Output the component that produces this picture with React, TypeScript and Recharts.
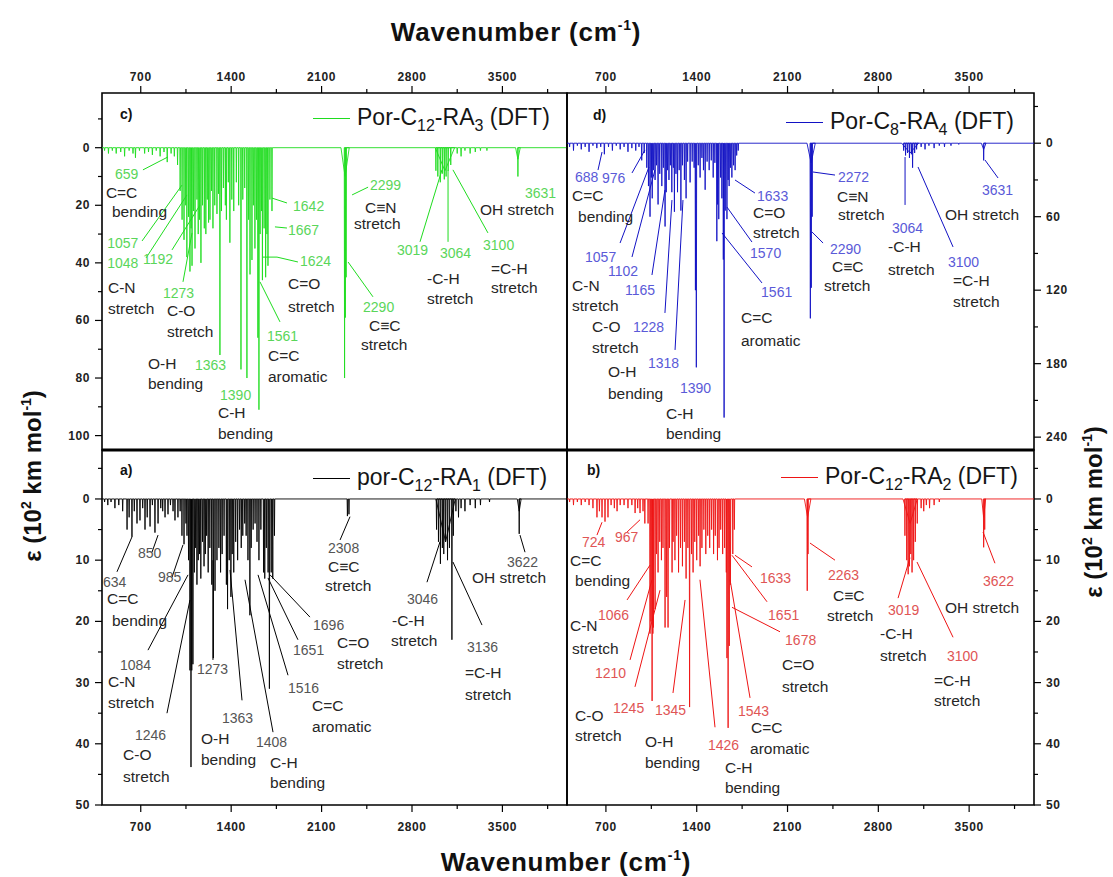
import {
  LineChart, Line, XAxis, YAxis, ReferenceArea, ReferenceLine, ReferenceDot, Legend,
} from 'recharts'

type Peak = [number, number, number?]
type Note = [string, number, number]
type Leader = [number, number, number, number]

const FONT = '"Liberation Sans", Arial, Helvetica, sans-serif'
const W = 1113
const H = 877

// wavenumber ticks shared by all four panels
const waveMajor = [700, 1400, 2100, 2800, 3500]
const waveTicks = [700, 1050, 1400, 1750, 2100, 2450, 2800, 3150, 3500, 3850]

const upperLeftTicks = [-10, 0, 10, 20, 30, 40, 50, 60, 70, 80, 90, 100]
const upperLeftMajor = [0, 20, 40, 60, 80, 100]
const upperRightTicks = [-30, 0, 30, 60, 90, 120, 150, 180, 210, 240]
const upperRightMajor = [0, 60, 120, 180, 240]
const lowerTicks = [-5, 0, 5, 10, 15, 20, 25, 30, 35, 40, 45, 50]
const lowerMajor = [0, 10, 20, 30, 40, 50]

// peak lists: [wavenumber, epsilon, half width (optional)]
const ra3Peaks: Peak[] = [
  [420, 1], [450, 2], [480, 1], [510, 2], [545, 1.5], [575, 3], [610, 1], [640, 2], [659, 3.5], [690, 1],
  [730, 2], [760, 1.5], [790, 2.5], [820, 1], [850, 3], [880, 1.5], [905, 5], [935, 2], [960, 3], [985, 6],
  [1005, 15], [1020, 25], [1035, 32], [1048, 20], [1057, 38], [1070, 24], [1081, 43], [1090, 28], [1097, 41],
  [1108, 22], [1120, 35], [1135, 18], [1145, 30], [1155, 25], [1166, 40], [1178, 20], [1192, 28], [1204, 30],
  [1215, 18], [1225, 26], [1236, 25], [1248, 15], [1259, 28], [1273, 20], [1290, 23], [1302, 16], [1313, 72],
  [1325, 22], [1340, 14], [1355, 20], [1363, 25], [1378, 12], [1390, 33], [1405, 18], [1420, 22], [1440, 12],
  [1458, 20], [1476, 77], [1490, 18], [1505, 14], [1522, 80], [1535, 25], [1546, 44], [1561, 39], [1572, 20],
  [1584, 35], [1596, 25], [1607, 66], [1615, 91], [1624, 30], [1635, 22], [1642, 46], [1655, 28], [1667, 45],
  [1677, 30], [1685, 41], [1700, 18], [1716, 22],
  [2282, 10, 32], [2278, 80], [2284, 59], [2290, 45],
  [3055, 8, 75], [2985, 8], [3000, 10], [3019, 12], [3035, 9], [3050, 11], [3064, 10], [3080, 8], [3100, 6],
  [3150, 2], [3180, 3], [3210, 1], [3250, 2], [3290, 1.5], [3330, 1], [3380, 1],
  [3620, 4, 18], [3620, 10],
]

const ra4Peaks: Peak[] = [
  [420, 3], [450, 6], [480, 2], [510, 5], [540, 3], [570, 7], [600, 2], [630, 4], [660, 3], [688, 9],
  [720, 3], [750, 6], [780, 2], [810, 5], [840, 3], [870, 7], [900, 4], [930, 6], [955, 3], [976, 14], [995, 8],
  [1015, 20], [1028, 35], [1040, 60], [1050, 28], [1057, 45], [1068, 22], [1079, 30], [1090, 18], [1102, 50],
  [1115, 25], [1131, 35], [1143, 20], [1156, 68], [1165, 40], [1175, 22], [1186, 30], [1197, 18], [1208, 40],
  [1220, 20], [1228, 56], [1240, 25], [1252, 40], [1265, 22], [1278, 55], [1290, 18], [1305, 30], [1318, 45],
  [1330, 15], [1349, 32], [1365, 15], [1380, 20], [1390, 120], [1397, 183], [1412, 18], [1426, 28], [1440, 12],
  [1452, 22], [1465, 38], [1480, 15], [1496, 22], [1512, 14], [1527, 28], [1540, 16], [1555, 80], [1561, 50],
  [1570, 62], [1584, 28], [1594, 45], [1605, 95], [1611, 224], [1620, 55], [1633, 62], [1642, 30], [1650, 35],
  [1660, 20], [1671, 28], [1684, 18], [1696, 22], [1708, 10], [1720, 6],
  [2282, 16, 32], [2276, 143], [2283, 118], [2290, 60],
  [3045, 8, 65], [2995, 6], [3010, 10], [3025, 8], [3040, 12], [3055, 9], [3064, 20], [3080, 8], [3095, 5],
  [3130, 3], [3160, 5], [3190, 2], [3230, 4], [3270, 2], [3310, 3], [3360, 2], [3420, 1],
  [3612, 5, 18], [3612, 14],
]

const ra1Peaks: Peak[] = [
  [420, 0.5], [445, 1], [470, 0.5], [500, 1.5], [530, 1], [560, 2], [594, 5], [610, 3], [632, 6.2], [650, 2],
  [671, 4], [694, 3.5], [715, 1.5], [733, 5], [750, 3], [772, 4.5], [790, 1], [810, 5.5], [834, 4], [855, 1.5],
  [870, 2], [888, 3], [911, 2.5], [930, 1], [950, 2], [965, 3.5], [988, 3], [1005, 2], [1019, 6], [1035, 7.4],
  [1050, 4], [1058, 6],
  [1070, 10], [1081, 28], [1089, 43.8], [1095, 28], [1104, 27], [1115, 12], [1125, 8], [1135, 14], [1145, 10],
  [1155, 9], [1165, 13], [1178, 7], [1190, 11], [1200, 9], [1210, 6], [1222, 12], [1235, 8], [1250, 14],
  [1262, 26], [1275, 15], [1290, 10], [1305, 8], [1318, 12], [1330, 9], [1345, 6], [1363, 14], [1372, 18],
  [1385, 10], [1398, 16], [1408, 9], [1420, 12], [1435, 7], [1450, 10], [1465, 5], [1478, 8], [1490, 6],
  [1505, 4], [1516, 6], [1530, 10], [1545, 19], [1555, 8], [1570, 5], [1585, 4], [1600, 7], [1615, 10],
  [1630, 5], [1651, 12], [1660, 13], [1672, 8], [1686, 12], [1696, 31], [1710, 12], [1722, 13], [1735, 6],
  [2300, 2.8], [2312, 2.5],
  [3060, 7, 75], [2990, 5], [3005, 7], [3020, 10.6], [3035, 8], [3046, 9], [3060, 7], [3075, 10], [3090, 8],
  [3109, 23], [3120, 6],
  [3140, 2], [3160, 3], [3180, 1.5], [3210, 2], [3250, 1], [3290, 1.5], [3330, 1], [3400, 0.5],
  [3630, 2, 15], [3630, 5.7],
]

const ra2Peaks: Peak[] = [
  [420, 0.5], [450, 1], [480, 0.5], [510, 1], [540, 0.5], [570, 1], [600, 1.5], [631, 3], [650, 2], [670, 3],
  [693, 3.7], [716, 3], [740, 1], [765, 1.5], [786, 2], [810, 1], [840, 1], [870, 1.5], [900, 1], [925, 2.3],
  [945, 1.5], [963, 2.3], [986, 2], [1000, 4], [1025, 4],
  [1040, 22], [1048, 20], [1056, 33], [1062, 22], [1066, 21], [1079, 18], [1090, 9], [1102, 12], [1115, 7],
  [1128, 10], [1140, 8], [1156, 21], [1168, 16], [1179, 21], [1190, 8], [1210, 12], [1218, 7], [1232, 10],
  [1245, 6], [1260, 12], [1275, 8], [1290, 11], [1305, 7], [1318, 13], [1332, 8], [1345, 34], [1360, 9],
  [1372, 12], [1385, 7], [1400, 10], [1415, 6], [1426, 11], [1440, 8], [1455, 5], [1470, 9], [1485, 6],
  [1500, 8], [1515, 5], [1530, 9], [1543, 6], [1560, 10], [1572, 8], [1585, 5], [1600, 9], [1615, 8],
  [1628, 12], [1633, 26], [1642, 37.4], [1651, 24], [1660, 14], [1678, 9], [1690, 5],
  [2255, 3, 25], [2252, 15], [2258, 9],
  [3045, 4, 55], [3005, 6], [3019, 10], [3030, 12.3], [3040, 11], [3050, 9], [3060, 12], [3072, 10],
  [3085, 7], [3100, 4],
  [3130, 1.5], [3150, 2], [3170, 1], [3195, 1.5], [3230, 1], [3270, 0.5],
  [3612, 3, 15], [3612, 7.9], [3620, 5],
]

// band assignments: [text, wavenumber, epsilon]
const ra3Numbers: Note[] = [
  ['659', 500, 9], ['1057', 440, 33], ['1048', 440, 40], ['1192', 717, 38.6], ['1273', 872, 50.5],
  ['1363', 1120, 75.6], ['1390', 1314, 85.9], ['1561', 1677, 65.4], ['1642', 1879, 20.2], ['1667', 1840, 28.6],
  ['1624', 1933, 39.3], ['2299', 2475, 13], ['2290', 2421, 55.3], ['3019', 2684, 35.5], ['3064', 3017, 36.6],
  ['3100', 3350, 33.8], ['3631', 3675, 15.7],
]
const ra3Notes: Note[] = [
  ['C=C', 430, 15.4], ['bending', 477, 22.3], ['C-N', 446, 48.7], ['stretch', 446, 55.7],
  ['C-O', 903, 56.7], ['stretch', 903, 64], ['O-H', 756, 74.8], ['bending', 756, 82],
  ['C-H', 1298, 92.1], ['bending', 1298, 99.4], ['C=C', 1685, 72.3], ['aromatic', 1685, 79.6],
  ['C=O', 1840, 47.3], ['stretch', 1840, 55], ['C≡N', 2436, 20.6], ['stretch', 2351, 26.5],
  ['C≡C', 2467, 61.9], ['stretch', 2405, 68.5], ['-C-H', 2916, 45.6], ['stretch', 2916, 52.5],
  ['=C-H', 3412, 41.8], ['stretch', 3412, 48.7], ['OH stretch', 3327, 21.6],
]
const ra3Leaders: Leader[] = [
  [717, 7.7, 911, 3.2], [710, 32.4, 1019, 13], [741, 38.3, 1058, 16.4], [942, 35.5, 1159, 19.9],
  [1027, 46.6, 1097, 29.6], [1832, 19.2, 1716, 17.5], [1832, 27.9, 1739, 27.5], [1917, 39.7, 1755, 38],
  [1755, 38, 1646, 38], [1778, 60.5, 1623, 46.6], [2460, 13.7, 2336, 16.4], [2498, 51.8, 2305, 39.7],
  [2862, 32.7, 3032, 7.7], [3079, 32.7, 3079, 7.7], [3388, 29.6, 3117, 7.7],
]

const ra4Numbers: Note[] = [
  ['688', 462, 27.6], ['976', 670, 28.4], ['1633', 1865, 43.1], ['2272', 2489, 27.6], ['3064', 2905, 69.2],
  ['3631', 3599, 38.2], ['1057', 539, 92.9], ['1102', 716, 104.3], ['1165', 847, 119.9], ['1228', 909, 150],
  ['1318', 1024, 179.5], ['1390', 1271, 199.9], ['1570', 1811, 89.6], ['1561', 1896, 121.5],
  ['2290', 2427, 86.4], ['3100', 3337, 97],
]
const ra4Notes: Note[] = [
  ['C=C', 439, 42.3], ['bending', 485, 60.2], ['C=O', 1834, 56.2], ['stretch', 1834, 72.5],
  ['C≡N', 2481, 43.9], ['stretch', 2489, 58.6], ['OH stretch', 3314, 58.6],
  ['C-N', 439, 115.8], ['stretch', 439, 132.9], ['C-O', 593, 150], ['stretch', 593, 167.2],
  ['O-H', 716, 186.8], ['bending', 716, 204], ['C-H', 1163, 220.3], ['bending', 1163, 237.4],
  ['C=C', 1741, 142.7], ['aromatic', 1741, 160.7], ['C≡C', 2443, 100.3], ['stretch', 2381, 115.8],
  ['-C-H', 2875, 84.7], ['stretch', 2875, 103.5], ['=C-H', 3376, 112.5], ['stretch', 3376, 129.6],
]
const ra4Leaders: Leader[] = [
  [639, 21.9, 670, 7.2], [901, 24.3, 1001, 5.5], [809, 81.5, 1032, 19.4], [901, 92.9, 1078, 21.9],
  [1055, 107.6, 1155, 38.2], [1155, 138.6, 1209, 46.4], [1233, 168.8, 1294, 46.4], [1849, 40.7, 1695, 30],
  [1826, 80.7, 1633, 52.1], [1903, 114.1, 1595, 73.3], [2466, 26, 2296, 23.5], [2374, 81.5, 2289, 72.5],
  [3006, 50.4, 3006, 11.3], [3376, 84.7, 3106, 19.4], [3723, 28.4, 3622, 13.7],
]

const ra1Numbers: Note[] = [
  ['850', 679, 8.8], ['985', 834, 12.8], ['634', 408, 13.6], ['2308', 2150, 8], ['3622', 3535, 10.3],
  ['3046', 2761, 16.3], ['1696', 2034, 20.6], ['1651', 1879, 24.7], ['3136', 3226, 24.2], ['1084', 539, 27.1],
  ['1273', 1135, 27.8], ['1516', 1840, 30.9], ['1363', 1329, 35.8], ['1246', 655, 38.6], ['1408', 1592, 39.7],
]
const ra1Notes: Note[] = [
  ['C=C', 439, 16.2], ['bending', 477, 19.8], ['C≡C', 2150, 11.1], ['stretch', 2126, 14.1],
  ['OH stretch', 3265, 12.9], ['-C-H', 2645, 19.8], ['stretch', 2637, 23.2], ['C=O', 2219, 23.4],
  ['stretch', 2219, 26.8], ['=C-H', 3210, 28.3], ['stretch', 3210, 32], ['C-N', 446, 29.9],
  ['stretch', 446, 33.3], ['C=C', 2026, 33.7], ['aromatic', 2026, 37.1], ['C-O', 563, 41.8],
  ['stretch', 563, 45.3], ['O-H', 1166, 39.1], ['bending', 1166, 42.5], ['C-H', 1701, 43.1],
  ['bending', 1701, 46.4],
]
const ra1Leaders: Leader[] = [
  [516, 11.9, 632, 6.2], [787, 8.7, 834, 5.9], [942, 12.8, 1027, 7.5], [756, 24.7, 1066, 12.4],
  [903, 35, 1081, 16.5], [1259, 26.3, 1259, 10], [1484, 32.9, 1391, 11.6], [1724, 38.1, 1507, 13.2],
  [1840, 28.8, 1608, 12.4], [1917, 23, 1685, 12.9], [2010, 19.3, 1701, 12.4], [2916, 13.6, 3017, 7],
  [3342, 20.6, 3117, 10.3], [2243, 6.7, 2320, 2.9], [3675, 8.7, 3636, 5.9],
]

const ra2Numbers: Note[] = [
  ['724', 516, 7], ['967', 770, 6.2], ['1633', 1888, 12.9], ['2263', 2412, 12.4], ['3622', 3607, 13.4],
  ['1066', 639, 19], ['1651', 1950, 19], ['3019', 2875, 18.1], ['1678', 2081, 23], ['3100', 3329, 25.7],
  ['1210', 616, 28.4], ['1245', 755, 34.2], ['1345', 1078, 34.5], ['1543', 1718, 34.6], ['1426', 1487, 40.2],
]
const ra2Notes: Note[] = [
  ['C=C', 423, 10], ['bending', 462, 13.4], ['C≡C', 2451, 15.7], ['stretch', 2404, 19],
  ['C-N', 423, 20.6], ['stretch', 439, 24.4], ['OH stretch', 3314, 17.8], ['-C-H', 2813, 21.9],
  ['stretch', 2813, 25.5], ['C=O', 2057, 27], ['stretch', 2057, 30.6], ['=C-H', 3229, 29.6],
  ['stretch', 3229, 33], ['C-O', 462, 35.3], ['stretch', 462, 38.6], ['C=C', 1818, 37.3],
  ['aromatic', 1811, 40.7], ['O-H', 1001, 39.7], ['bending', 1001, 43], ['C-H', 1618, 43.8],
  ['bending', 1618, 47.2],
]
const ra2Leaders: Leader[] = [
  [631, 5.9, 670, 3.8], [863, 5.4, 963, 3.4], [863, 16.5, 1040, 10.8], [886, 26.3, 1055, 13.2],
  [924, 30.7, 1117, 14.9], [1217, 31.7, 1310, 16.5], [1541, 37.3, 1425, 13.2], [1811, 32.5, 1657, 13.2],
  [2042, 21.7, 1672, 17.7], [1942, 16.8, 1672, 9.2], [1826, 11.1, 1695, 9.2], [2466, 10, 2273, 7.2],
  [2952, 16.2, 3044, 9.6], [3376, 22.6, 3098, 10.3], [3699, 10.5, 3607, 5.4],
]

// each peak becomes a narrow spike rising from the zero line
function toTrace(peaks: Peak[]) {
  const pts = [{ w: 400, eps: 0 }]
  for (const [w, eps, hw = 2.5] of peaks) {
    pts.push({ w: w - hw, eps: 0 }, { w, eps }, { w: w + hw, eps: 0 })
  }
  pts.push({ w: 4000, eps: 0 })
  return pts
}

const tickText = { fontFamily: FONT, fontWeight: 700, fontSize: 12, fill: '#222', letterSpacing: 0.6 }

const xTick = (side: 'top' | 'bottom') => (props: any) => {
  const { x, y, payload } = props
  const major = waveMajor.includes(payload.value)
  const dir = side === 'top' ? -1 : 1
  return (
    <g>
      <line x1={x} x2={x} y1={y} y2={y + dir * (major ? 7 : 4)} stroke="#000" strokeWidth={1.2} />
      {major && (
        <text x={x} y={y + dir * (side === 'top' ? 16 : 22)} textAnchor="middle" dominantBaseline="central" {...tickText}>
          {payload.value}
        </text>
      )}
    </g>
  )
}

const yTick = (side: 'left' | 'right', majors: number[]) => (props: any) => {
  const { x, y, payload } = props
  const major = majors.includes(payload.value)
  const dir = side === 'left' ? -1 : 1
  return (
    <g>
      <line x1={x} x2={x + dir * (major ? 7 : 4)} y1={y} y2={y} stroke="#000" strokeWidth={1.2} />
      {major && (
        <text x={x + dir * 12} y={y} textAnchor={side === 'left' ? 'end' : 'start'} dominantBaseline="central" {...tickText}>
          {payload.value}
        </text>
      )}
    </g>
  )
}

const noteShape = (text: string, color: string, size: number) => (p: any) => (
  <text x={p.cx} y={p.cy} fill={color} fontSize={size} fontFamily={FONT} dominantBaseline="central">
    {text}
  </text>
)

function SeriesKey({ color, parts }: { color?: string; parts: [string, boolean][] }) {
  return (
    <div style={{ display: 'flex', alignItems: 'center', fontFamily: FONT, fontSize: 23, color: '#151515', whiteSpace: 'nowrap', lineHeight: '28px' }}>
      <span style={{ display: 'inline-block', width: 37, borderTop: `1.5px solid ${color}`, marginRight: 7 }} />
      <span>
        {parts.map(([t, sub], i) =>
          sub ? <span key={i} style={{ fontSize: 16, position: 'relative', top: 6 }}>{t}</span> : <span key={i}>{t}</span>
        )}
      </span>
    </div>
  )
}

interface PanelSpec {
  peaks: Peak[]
  name: string
  parts: [string, boolean][]
  color: string
  numColor: string
  numbers: Note[]
  notes: Note[]
  leaders: Leader[]
  yDomain: [number, number]
  yTicks: number[]
  yMajor: number[]
  xSide: 'top' | 'bottom'
  ySide: 'left' | 'right'
  margin: { top: number; right: number; bottom: number; left: number }
  legendAt: [number, number]
  upper: boolean
}

const panels: PanelSpec[] = [
  {
    peaks: ra3Peaks, name: 'Por-C12-RA3 (DFT)',
    parts: [['Por-C', false], ['12', true], ['-RA', false], ['3', true], [' (DFT)', false]],
    color: '#1fdc1f', numColor: '#5ad65a', numbers: ra3Numbers, notes: ra3Notes, leaders: ra3Leaders,
    yDomain: [-19, 105], yTicks: upperLeftTicks, yMajor: upperLeftMajor, xSide: 'top', ySide: 'left',
    margin: { top: 63, right: 546, bottom: 427, left: 62 }, legendAt: [313, 103], upper: true,
  },
  {
    peaks: ra4Peaks, name: 'Por-C8-RA4 (DFT)',
    parts: [['Por-C', false], ['8', true], ['-RA', false], ['4', true], [' (DFT)', false]],
    color: '#1212c4', numColor: '#5a5ad8', numbers: ra4Numbers, notes: ra4Notes, leaders: ra4Leaders,
    yDomain: [-41, 250.5], yTicks: upperRightTicks, yMajor: upperRightMajor, xSide: 'top', ySide: 'right',
    margin: { top: 63, right: 39, bottom: 427, left: 567 }, legendAt: [786, 107], upper: true,
  },
  {
    peaks: ra1Peaks, name: 'por-C12-RA1 (DFT)',
    parts: [['por-C', false], ['12', true], ['-RA', false], ['1', true], [' (DFT)', false]],
    color: '#000000', numColor: '#555555', numbers: ra1Numbers, notes: ra1Notes, leaders: ra1Leaders,
    yDomain: [-8, 50], yTicks: lowerTicks, yMajor: lowerMajor, xSide: 'bottom', ySide: 'left',
    margin: { top: 450, right: 546, bottom: 42, left: 62 }, legendAt: [313, 463], upper: false,
  },
  {
    peaks: ra2Peaks, name: 'Por-C12-RA2 (DFT)',
    parts: [['Por-C', false], ['12', true], ['-RA', false], ['2', true], [' (DFT)', false]],
    color: '#ee1414', numColor: '#e05555', numbers: ra2Numbers, notes: ra2Notes, leaders: ra2Leaders,
    yDomain: [-8, 50], yTicks: lowerTicks, yMajor: lowerMajor, xSide: 'bottom', ySide: 'right',
    margin: { top: 450, right: 39, bottom: 42, left: 567 }, legendAt: [781, 462], upper: false,
  },
]

function Panel({ spec }: { spec: PanelSpec }) {
  const data = toTrace(spec.peaks)
  return (
    <div style={{ position: 'absolute', left: 0, top: 0 }}>
      <LineChart width={W} height={H} data={data} margin={spec.margin}>
        <XAxis
          dataKey="w" type="number" domain={[400, 4000]} allowDataOverflow ticks={waveTicks} interval={0}
          orientation={spec.xSide} height={30} tickSize={0} tickMargin={0} axisLine={false} tickLine={false}
          tick={xTick(spec.xSide)}
        />
        <YAxis
          type="number" domain={spec.yDomain} allowDataOverflow reversed ticks={spec.yTicks} interval={0}
          orientation={spec.ySide} width={40} tickSize={0} tickMargin={0} axisLine={false} tickLine={false}
          tick={yTick(spec.ySide, spec.yMajor)}
        />
        <ReferenceArea
          x1={400} x2={4000} y1={spec.yDomain[0]} y2={spec.yDomain[1]}
          fill="none" stroke="#000" strokeWidth={1.6} ifOverflow="visible"
        />
        {spec.upper && (
          <ReferenceLine y={spec.yDomain[1]} stroke="#000" strokeWidth={3} ifOverflow="visible" />
        )}
        {spec.leaders.map(([x1, y1, x2, y2], i) => (
          <ReferenceLine
            key={`l${i}`} segment={[{ x: x1, y: y1 }, { x: x2, y: y2 }]}
            stroke={spec.color} strokeWidth={1} ifOverflow="visible"
          />
        ))}
        <Line
          dataKey="eps" name={spec.name} stroke={spec.color} strokeWidth={0.9}
          dot={false} activeDot={false} isAnimationActive={false}
        />
        {spec.numbers.map(([t, x, y], i) => (
          <ReferenceDot key={`n${i}`} x={x} y={y} r={0} ifOverflow="visible" shape={noteShape(t, spec.numColor, 14)} />
        ))}
        {spec.notes.map(([t, x, y], i) => (
          <ReferenceDot key={`t${i}`} x={x} y={y} r={0} ifOverflow="visible" shape={noteShape(t, '#262626', 15.5)} />
        ))}
        <Legend
          layout="vertical" align="center" verticalAlign="middle"
          wrapperStyle={{ left: spec.legendAt[0], top: spec.legendAt[1], width: 'auto', height: 'auto' }}
          content={(p: any) => <SeriesKey color={p.payload?.[0]?.color ?? spec.color} parts={spec.parts} />}
        />
      </LineChart>
    </div>
  )
}

const tags: [string, number, number][] = [['c)', 120, 114], ['d)', 593, 115], ['a)', 120, 470], ['b)', 587, 470]]

export default function App() {
  const title = { fontFamily: FONT, fontWeight: 700, fill: '#111' }
  return (
    <div style={{ position: 'absolute', left: 0, top: 0, width: W, height: H, background: '#fff' }}>
      {panels.map((p) => <Panel key={p.name} spec={p} />)}
      <svg width={W} height={H} style={{ position: 'absolute', left: 0, top: 0, pointerEvents: 'none' }}>
        <text x={516} y={41} textAnchor="middle" fontSize={26} letterSpacing={0.8} {...title}>
          Wavenumber (cm<tspan dy={-11} fontSize={14}>-1</tspan><tspan dy={11}>)</tspan>
        </text>
        <text x={566} y={871} textAnchor="middle" fontSize={26} letterSpacing={0.8} {...title}>
          Wavenumber (cm<tspan dy={-11} fontSize={14}>-1</tspan><tspan dy={11}>)</tspan>
        </text>
        <text transform="translate(41,476) rotate(-90)" textAnchor="middle" fontSize={24} {...title}>
          ε (10<tspan dy={-10} fontSize={14}>2</tspan><tspan dy={10}> km mol</tspan>
          <tspan dy={-10} fontSize={14}>-1</tspan><tspan dy={10}>)</tspan>
        </text>
        <text transform="translate(1102,512) rotate(-90)" textAnchor="middle" fontSize={24} {...title}>
          ε (10<tspan dy={-10} fontSize={14}>2</tspan><tspan dy={10}> km mol</tspan>
          <tspan dy={-10} fontSize={14}>-1</tspan><tspan dy={10}>)</tspan>
        </text>
        {tags.map(([t, x, y]) => (
          <text key={t} x={x} y={y} dominantBaseline="central" fontSize={14} {...title}>{t}</text>
        ))}
      </svg>
    </div>
  )
}
